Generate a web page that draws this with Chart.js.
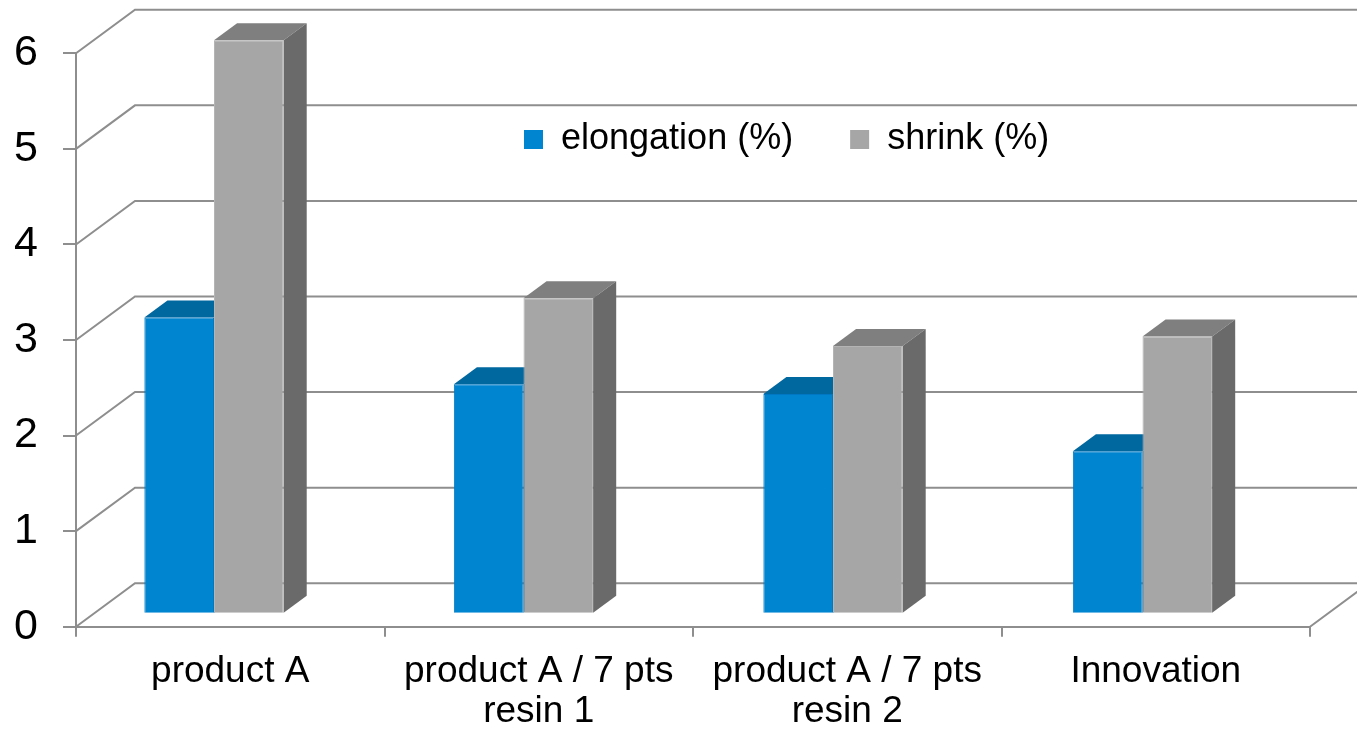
<!DOCTYPE html>
<html>
<head>
<meta charset="utf-8">
<script src="https://cdn.jsdelivr.net/npm/chart.js@4.4.0/dist/chart.umd.min.js"></script>
<style>
  html, body { margin: 0; padding: 0; background: #ffffff; overflow: hidden; }
  #wrap { width: 1357px; height: 730px; position: relative; }
</style>
</head>
<body>
<div id="wrap"><canvas id="c"></canvas></div>
<script>
// ---- data ----
const categories = [['product A'], ['product A / 7 pts', 'resin 1'], ['product A / 7 pts', 'resin 2'], ['Innovation']];
const seriesNames = ['elongation (%)', 'shrink (%)'];
const elongation = [3.1, 2.4, 2.3, 1.7];
const shrink = [6.0, 3.3, 2.8, 2.9];
const yTickValues = [0, 1, 2, 3, 4, 5, 6];

// ---- styles ----
const FONT = "'Liberation Sans', Arial, sans-serif";
const GRID = '#8e8e8e';
const WALL = { dx: 59, dy: -43.5 };
const BAR_DEPTH = { dx: 23, dy: -17 };
const BAR_SHIFT = { tx: -17, ty: -13, sx: 1.00324 };
const LEGEND_POS = { x: 524, y: 121.5 };
const styles = [
  { front: '#0085D0', top: '#00679F', side: '#00578A', border: '#0077C2' },
  { front: '#A6A6A6', top: '#7F7F7F', side: '#6A6A6A', border: '#B4B4B4' }
];

const threeD = {
  id: 'threeD',
  afterUpdate(chart) {
    const lg = chart.legend;
    if (!lg) return;
    const pad = lg.options.labels.padding;
    lg.left = LEGEND_POS.x - pad;
    lg.right = chart.width + 1000;
    lg.top = LEGEND_POS.y - pad;
    lg.bottom = lg.top + 300;
  },
  beforeDatasetsDraw(chart) {
    const ctx = chart.ctx, xs = chart.scales.x, ys = chart.scales.y;
    // back wall + floor
    ctx.save();
    ctx.strokeStyle = GRID;
    ctx.lineWidth = 2;
    ctx.beginPath();
    yTickValues.forEach(v => {
      const yf = ys.getPixelForValue(v);
      ctx.moveTo(xs.left, yf);
      ctx.lineTo(xs.left + WALL.dx, yf + WALL.dy);
      ctx.lineTo(chart.width + 10, yf + WALL.dy);
    });
    const y0 = ys.getPixelForValue(0);
    ctx.moveTo(xs.right, y0);
    ctx.lineTo(xs.right + WALL.dx, y0 + WALL.dy);
    ctx.stroke();
    ctx.restore();

    // bars sit inside the box: shift them, draw tops and sides
    ctx.save();
    ctx.translate(BAR_SHIFT.tx, BAR_SHIFT.ty);
    ctx.scale(BAR_SHIFT.sx, 1);
    chart.data.datasets.forEach((ds, di) => {
      const meta = chart.getDatasetMeta(di);
      meta.data.forEach(bar => {
        const p = bar.getProps(['x', 'y', 'base', 'width'], true);
        const x1 = p.x - p.width / 2, x2 = p.x + p.width / 2;
        const top = p.y, bot = p.base;
        const dx = BAR_DEPTH.dx, dy = BAR_DEPTH.dy;
        ctx.fillStyle = styles[di].top;
        ctx.beginPath();
        ctx.moveTo(x1, top);
        ctx.lineTo(x1 + dx, top + dy);
        ctx.lineTo(x2 + dx, top + dy);
        ctx.lineTo(x2, top);
        ctx.closePath();
        ctx.fill();
        ctx.fillStyle = styles[di].side;
        ctx.beginPath();
        ctx.moveTo(x2, top);
        ctx.lineTo(x2 + dx, top + dy);
        ctx.lineTo(x2 + dx, bot + dy);
        ctx.lineTo(x2, bot);
        ctx.closePath();
        ctx.fill();
      });
    });
  },
  afterDatasetsDraw(chart) {
    chart.ctx.restore();
  }
};

new Chart(document.getElementById('c'), {
  type: 'bar',
  data: {
    labels: categories,
    datasets: [
      { label: seriesNames[0], data: elongation, backgroundColor: styles[0].front, borderColor: styles[0].border, borderWidth: 1, clip: false },
      { label: seriesNames[1], data: shrink, backgroundColor: styles[1].front, borderColor: styles[1].border, borderWidth: 1, clip: false }
    ]
  },
  options: {
    responsive: true,
    maintainAspectRatio: false,
    animation: false,
    layout: { padding: { top: 53.3, right: 47, bottom: 0, left: 0 } },
    datasets: { bar: { categoryPercentage: 0.45, barPercentage: 1 } },
    plugins: {
      tooltip: { enabled: false },
      legend: {
        position: 'top',
        align: 'start',
        maxHeight: 0.001,
        labels: {
          boxWidth: 19,
          boxHeight: 19,
          padding: 57,
          color: '#000000',
          font: { family: FONT, size: 36 },
          generateLabels(chart) {
            return chart.data.datasets.map((ds, i) => ({
              text: ds.label, fillStyle: styles[i].front, strokeStyle: styles[i].front,
              lineWidth: 0, hidden: false, datasetIndex: i
            }));
          }
        }
      }
    },
    scales: {
      x: {
        offset: true,
        grid: { display: true, drawOnChartArea: false, drawTicks: true, tickLength: 10, color: GRID, lineWidth: 2, offset: true },
        border: { display: true, color: GRID, width: 2 },
        ticks: { color: '#000000', padding: 15, maxRotation: 0, autoSkip: false, font: { family: FONT, size: 37, lineHeight: 1.09 } },
        afterFit(scale) { scale.height = 730 - 626.7; }
      },
      y: {
        min: 0,
        max: 6,
        grid: { display: true, drawOnChartArea: false, drawTicks: true, tickLength: 13, color: GRID, lineWidth: 2 },
        border: { display: true, color: GRID, width: 2 },
        ticks: { stepSize: 1, color: '#000000', padding: 25, font: { family: FONT, size: 43 } },
        afterFit(scale) { scale.width = 76; }
      }
    }
  },
  plugins: [threeD]
});
</script>
</body>
</html>
